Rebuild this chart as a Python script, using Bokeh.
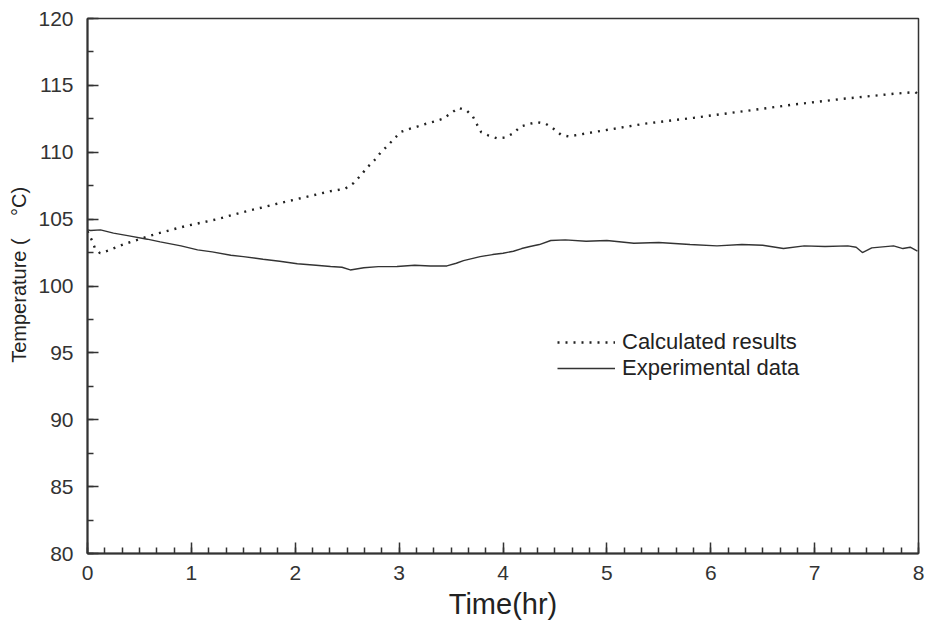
from bokeh.plotting import figure
from bokeh.models import Range1d, SingleIntervalTicker, Legend, LegendItem
from bokeh.embed import file_html
from bokeh.resources import INLINE

# Calculated results (dotted)
calc_t = [0.0, 0.04, 0.07, 0.12, 0.2, 0.36, 0.66, 0.93, 1.25, 1.46, 1.8, 2.1, 2.34, 2.48,
          2.56, 2.63, 2.69, 2.76, 2.82, 2.89, 2.96, 3.02, 3.10, 3.18, 3.26, 3.34, 3.42,
          3.50, 3.57, 3.65, 3.71, 3.75, 3.79, 3.86, 3.94, 4.02, 4.10, 4.17, 4.26, 4.33,
          4.41, 4.48, 4.56, 4.63, 4.87, 5.36, 5.84, 6.32, 6.80, 7.28, 7.76, 7.97, 8.0]
calc_T = [104.1, 103.45, 102.86, 102.45, 102.65, 103.15, 103.9, 104.45, 105.0, 105.45, 106.1,
          106.65, 107.09, 107.27, 107.69, 108.26, 108.84, 109.38, 109.96, 110.5, 111.08,
          111.53, 111.75, 111.93, 112.13, 112.3, 112.5, 112.92, 113.32, 113.12, 112.67,
          112.07, 111.5, 111.25, 111.05, 111.1, 111.42, 111.93, 112.13, 112.25, 112.13,
          111.8, 111.3, 111.18, 111.5, 112.13, 112.58, 113.07, 113.57, 114.0, 114.37,
          114.5, 114.3]

# Experimental data (solid)
exp_t = [0.0, 0.03, 0.125, 0.25, 0.4, 0.575, 0.7, 0.9, 1.06, 1.2, 1.38, 1.5, 1.69, 1.85,
         2.02, 2.2, 2.34, 2.45, 2.53, 2.66, 2.8, 2.98, 3.15, 3.30, 3.46, 3.55, 3.62, 3.7,
         3.78, 3.9, 4.0, 4.10, 4.18, 4.26, 4.35, 4.46, 4.6, 4.8, 5.0, 5.26, 5.5, 5.8,
         6.06, 6.3, 6.5, 6.70, 6.9, 7.1, 7.32, 7.4, 7.46, 7.55, 7.76, 7.85, 7.92, 7.99]
exp_T = [104.2, 104.15, 104.2, 103.95, 103.75, 103.5, 103.3, 103.0, 102.7, 102.55, 102.3,
         102.2, 102.0, 101.85, 101.66, 101.55, 101.46, 101.4, 101.2, 101.36, 101.45, 101.46,
         101.55, 101.5, 101.5, 101.7, 101.9, 102.05, 102.2, 102.35, 102.45, 102.6, 102.8,
         102.95, 103.1, 103.4, 103.45, 103.35, 103.4, 103.2, 103.25, 103.1, 103.0, 103.1,
         103.05, 102.8, 103.0, 102.95, 103.0, 102.9, 102.5, 102.85, 103.0, 102.8, 102.9,
         102.6]

x_ticks_interval = 1
y_ticks_interval = 5

p = figure(width=928, height=626, output_backend="svg", toolbar_location=None,
           x_range=Range1d(0, 8), y_range=Range1d(80, 120),
           min_border_left=87, min_border_right=10, min_border_top=18, min_border_bottom=73)
p.background_fill_color = "white"
p.border_fill_color = "white"
p.xgrid.visible = False
p.ygrid.visible = False
p.outline_line_color = "#333333"
p.outline_line_width = 1.5

r_calc = p.line(calc_t, calc_T, line_color="#222222", line_width=2.4, line_dash="2 6")
r_exp = p.line(exp_t, exp_T, line_color="#333333", line_width=1.4)

p.xaxis.ticker = SingleIntervalTicker(interval=x_ticks_interval, num_minor_ticks=6)
p.yaxis.ticker = SingleIntervalTicker(interval=y_ticks_interval, num_minor_ticks=2)

for ax in (p.xaxis[0], p.yaxis[0]):
    ax.axis_line_color = "#333333"
    ax.axis_line_width = 2
    ax.major_tick_in = 11
    ax.major_tick_out = 0
    ax.minor_tick_in = 6
    ax.minor_tick_out = 0
    ax.major_tick_line_color = "#333333"
    ax.minor_tick_line_color = "#333333"
    ax.major_tick_line_width = 1.5
    ax.minor_tick_line_width = 1.5
    ax.major_label_text_font = "Liberation Sans"
    ax.major_label_text_font_size = "21px"
    ax.major_label_text_color = "#333333"
    ax.axis_label_text_font = "Liberation Sans"
    ax.axis_label_text_font_style = "normal"
    ax.axis_label_text_color = "#222222"

p.xaxis.axis_label = "Time(hr)"
p.xaxis.axis_label_text_font_size = "29px"
p.xaxis.major_label_standoff = 12
p.xaxis.axis_label_standoff = 5

p.yaxis.axis_label = "\u00a0" * 4 + "Temperature (" + "\u00a0" * 4 + "°C)"
p.yaxis.axis_label_text_font_size = "20px"
p.yaxis.major_label_standoff = 14
p.yaxis.axis_label_standoff = 5

legend = Legend(items=[LegendItem(label="Calculated results", renderers=[r_calc]),
                       LegendItem(label="Experimental data", renderers=[r_exp])],
                location=(470, 172))
legend.border_line_color = None
legend.background_fill_alpha = 0
legend.padding = 0
legend.margin = 0
legend.spacing = 0
legend.glyph_width = 58
legend.glyph_height = 20
legend.label_height = 20
legend.label_standoff = 7
legend.label_text_font = "Liberation Sans"
legend.label_text_font_size = "22px"
legend.label_text_color = "#222222"
p.add_layout(legend)

open("out.html", "w").write(file_html(p, INLINE))
